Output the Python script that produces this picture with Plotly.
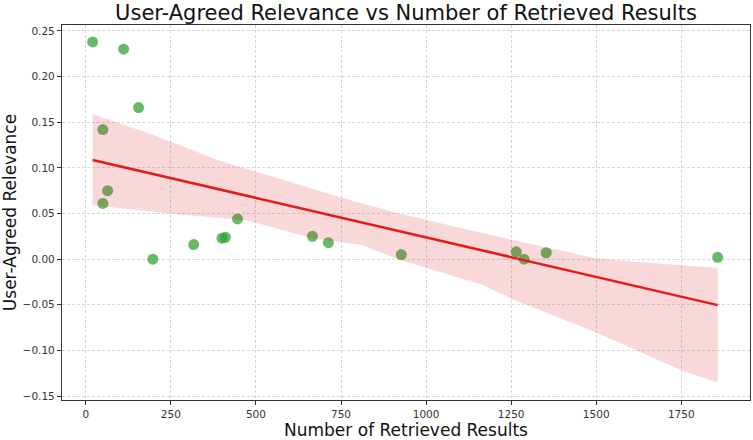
import plotly.graph_objects as go

# Data points
retrieved = [20, 111, 155, 50, 64, 50, 197, 317, 400, 410, 446, 666, 713, 927, 1265, 1288, 1353, 1857]
relevance = [0.238, 0.230, 0.166, 0.142, 0.075, 0.061, 0.000, 0.016, 0.023, 0.024, 0.044,
             0.025, 0.018, 0.005, 0.008, 0.000, 0.007, 0.002]

# Regression line endpoints
fit_x = [20, 1857]
fit_y = [0.1087, -0.0504]

# Confidence band edges
upper_x = [20, 178, 305, 393, 569, 745, 921, 1254, 1498, 1606, 1857]
upper_y = [0.1587, 0.1388, 0.1207, 0.1079, 0.088, 0.068, 0.050, 0.021, 0.001, -0.0025, -0.0098]
lower_x = [20, 246, 471, 666, 813, 921, 1166, 1254, 1498, 1752, 1857]
lower_y = [0.059, 0.050, 0.0427, 0.023, 0.0155, -0.0007, -0.028, -0.044, -0.080, -0.122, -0.135]

x_ticks = [0, 250, 500, 750, 1000, 1250, 1500, 1750]
y_ticks = [-0.15, -0.10, -0.05, 0.00, 0.05, 0.10, 0.15, 0.20, 0.25]

fig = go.Figure()
fig.add_trace(go.Scatter(
    x=retrieved, y=relevance, mode="markers",
    marker=dict(size=11, color="rgba(44,160,44,0.72)", line=dict(width=0)),
    showlegend=False))
fig.add_trace(go.Scatter(
    x=upper_x + lower_x[::-1], y=upper_y + lower_y[::-1],
    fill="toself", fillcolor="rgba(214,39,40,0.18)", line=dict(width=0),
    mode="lines", showlegend=False, hoverinfo="skip"))
fig.add_trace(go.Scatter(
    x=fit_x, y=fit_y, mode="lines",
    line=dict(color="#e41a1c", width=2.5), showlegend=False))

axis_common = dict(
    showline=True, linecolor="#333333", linewidth=1.2, mirror=True,
    showgrid=True, gridcolor="rgba(205,205,205,0.8)", griddash="3px,2px", gridwidth=1,
    zeroline=False, ticks="outside", ticklen=4, tickcolor="#333333",
    tickfont=dict(family="DejaVu Sans", size=10.5, color="#333333"),
)

fig.update_layout(
    width=753, height=440,
    margin=dict(l=62, r=2, t=25, b=37),
    paper_bgcolor="white", plot_bgcolor="white",
    title=dict(text="User-Agreed Relevance vs Number of Retrieved Results",
               xref="paper", x=0.5, xanchor="center", y=0.972, yanchor="middle",
               font=dict(family="DejaVu Sans", size=21, color="#111111")),
    xaxis=dict(title=dict(text="Number of Retrieved Results", standoff=6,
                          font=dict(family="DejaVu Sans", size=17, color="#111111")),
               range=[-70, 1952], tickvals=x_ticks,
               ticktext=[str(v) for v in x_ticks], **axis_common),
    yaxis=dict(title=dict(text="User-Agreed Relevance", standoff=4,
                          font=dict(family="DejaVu Sans", size=17, color="#111111")),
               range=[-0.1543, 0.2565], tickvals=y_ticks,
               ticktext=[f"{v:.2f}".replace("-", "\u2212") for v in y_ticks], **axis_common),
)

fig.write_html("out.html")
